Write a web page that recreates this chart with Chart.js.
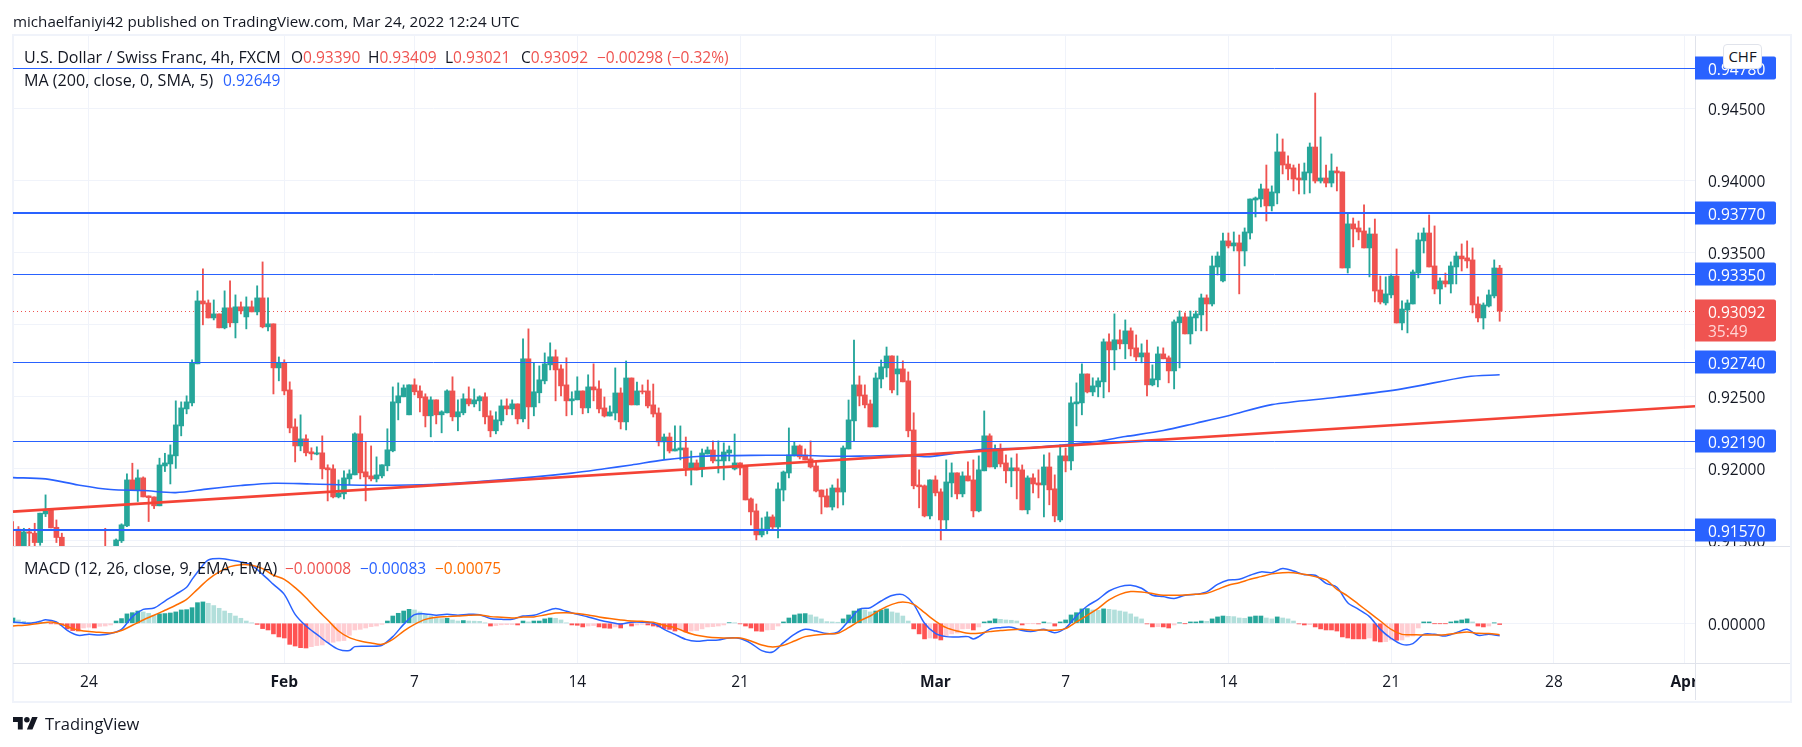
<!DOCTYPE html>
<html><head><meta charset="utf-8">
<style>
html,body{margin:0;padding:0;background:#fff;width:1802px;height:747px;overflow:hidden}
canvas{position:absolute;left:0;top:0}
.t{position:absolute;font:15.5px/20px "Open Sans",sans-serif;color:#131722;white-space:pre;z-index:2}
.l{font-size:16.1px}
.r{color:#ef5350}.b{color:#2962ff}.o{color:#ff6d00}
#frame{position:absolute;left:12px;top:34px;width:1776px;height:665px;border:2px solid #f0f3fa}
#chf{position:absolute;left:1723px;top:44px;width:37px;height:23px;background:#fff;border:1px solid #e0e3eb;border-radius:4px;font:15px/23px "Open Sans",sans-serif;text-align:center;color:#131722;z-index:3}
#logo{position:absolute;left:13px;top:714px}
</style></head><body>
<div id="frame"></div>
<canvas id="c" width="1802" height="747"></canvas>
<div class="t" style="left:13px;top:11px;font-size:15.15px">michaelfaniyi42 published on TradingView.com, Mar 24, 2022 12:24 UTC</div>
<div class="t l" style="left:24px;top:47px">U.S. Dollar / Swiss Franc, 4h, FXCM</div>
<div class="t" style="left:291px;top:47px">O<span class="r">0.93390</span></div>
<div class="t" style="left:368px;top:47px">H<span class="r">0.93409</span></div>
<div class="t" style="left:445px;top:47px">L<span class="r">0.93021</span></div>
<div class="t" style="left:521px;top:47px">C<span class="r">0.93092</span></div>
<div class="t r" style="left:597px;top:47px">−0.00298 (−0.32%)</div>
<div class="t l" style="left:24px;top:70px">MA (200, close, 0, SMA, 5)</div>
<div class="t b" style="left:223px;top:70px">0.92649</div>
<div class="t l" style="left:24px;top:558px">MACD (12, 26, close, 9, EMA, EMA)</div>
<div class="t r" style="left:285px;top:558px">−0.00008</div>
<div class="t b" style="left:360px;top:558px">−0.00083</div>
<div class="t o" style="left:435px;top:558px">−0.00075</div>
<div id="chf">CHF</div>
<svg id="logo" width="25" height="20" viewBox="0 0 36 28"><path fill="#131722" d="M14 22H7V11H0V4h14v18zM28 22h-8l7.5-18h8L28 22z"/><circle fill="#131722" cx="20" cy="8" r="4"/></svg>
<div class="t" style="left:45px;top:714px;font-size:16.5px">TradingView</div>
<script src="https://cdn.jsdelivr.net/npm/chart.js@4/dist/chart.umd.min.js"></script>
<script>
// Prices are in units of 0.00001. null = off the visible part of the pane.
const opens=[91450,91577,91430,91558,91549,91484,91683,91711,91590,91521,
null,null,null,null,null,null,null,91440,null,91440,
91496,91600,91919,91850,91933,91808,91801,91739,92016,92030,
92086,92294,92412,92454,92725,93162,93148,93044,93072,92975,
93114,93010,93121,93051,93121,93086,93183,92982,93003,92697,
92732,92544,92287,92155,92204,92114,92098,92107,92003,91996,
91801,91822,91926,91954,92239,91975,91947,91926,91947,92017,
92121,92454,92496,92371,92579,92537,92496,92364,92475,92371,
92385,92537,92357,92385,92482,92447,92468,92496,92364,92260,
92329,92433,92412,92447,92343,92760,92426,92524,92607,92718,
92774,92690,92579,92468,92475,92537,92419,92565,92551,92419,
92363,92384,92523,92322,92627,92440,92537,92537,92440,92384,
92183,92217,92120,92127,92141,92002,92037,91995,92099,92127,
92051,92051,92106,91995,92037,92016,91787,91704,91537,91572,
91662,91592,91849,91967,92085,92155,92092,92065,92016,91849,
91808,91731,91863,91835,92134,92329,92579,92509,92447,92287,
92620,92697,92780,92655,92690,92607,92266,91884,91878,91669,
91919,91836,91641,91898,91968,91822,91947,91919,91704,91982,
92225,92009,92128,92037,91982,92003,91989,91711,91933,91898,
91884,92009,91857,91641,92086,92051,92447,92454,92655,92530,
92565,92600,92878,92822,92892,92864,92954,92836,92773,92801,
92579,92614,92794,92767,92676,93010,93051,92933,93044,93065,
93183,93141,93398,93301,93579,93544,93565,93509,93634,93863,
93870,93940,93822,93912,94197,94113,94086,94016,94002,94051,
94231,93995,94016,93981,94065,94058,93391,93697,93669,93648,
93530,93627,93238,93148,93204,93335,93009,93099,93141,93356,
93579,93634,93405,93245,93301,93280,93398,93474,93461,93447,
93141,93044,93127,93197,93390];
const highs=[91630,91595,91583,91583,91618,91688,91815,91722,91641,91549,
null,null,null,null,null,null,null,91583,null,91509,
91614,91961,92035,91989,91940,91808,91801,92070,92104,92162,
92468,92461,92503,92753,93232,93385,93169,93169,93072,93232,
93301,93204,93155,93190,93162,93267,93433,93183,93003,92773,
92753,92600,92343,92371,92232,92142,92149,92225,92024,92024,
91919,91982,91989,92246,92364,92183,92155,92079,92024,92274,
92565,92593,92579,92579,92621,92572,92517,92496,92475,92399,
92544,92635,92475,92517,92565,92551,92503,92524,92399,92392,
92475,92482,92475,92447,92899,92968,92732,92711,92801,92871,
92822,92718,92767,92531,92635,92537,92649,92725,92607,92495,
92433,92697,92558,92745,92627,92599,92579,92613,92585,92419,
92238,92245,92294,92294,92217,92120,92058,92134,92148,92190,
92190,92176,92155,92238,92037,92016,91794,91752,91655,91697,
91676,91898,91981,92280,92183,92162,92134,92190,92044,91849,
91856,91884,91926,92155,92474,92891,92641,92579,92474,92662,
92752,92842,92780,92780,92746,92669,92385,91989,91884,91919,
91947,91857,92058,92037,91968,91975,92044,92058,92086,92398,
92239,92162,92169,92093,92072,92100,92023,91947,91961,91989,
92093,92107,91954,92162,92141,92496,92593,92725,92655,92628,
92628,92898,92933,93072,92961,93030,92975,92926,92864,92891,
92718,92843,92836,92780,93030,93093,93079,93092,93092,93210,
93204,93474,93502,93634,93634,93641,93620,93669,93870,93884,
93974,94106,93961,94322,94287,94169,94106,94113,94120,94259,
94606,94301,94106,94183,94092,94058,93773,93738,93717,93829,
93669,93731,93335,93329,93349,93523,93162,93169,93377,93634,
93669,93759,93683,93322,93356,93433,93502,93558,93579,93530,
93190,93148,93238,93447,93409];
const lows=[91400,91400,91400,91440,91420,91465,91664,91586,91484,91400,
null,null,null,null,null,null,null,91400,null,91420,
91484,91595,91850,91769,91801,91630,91720,91739,91977,91891,
91999,92225,92378,92433,92725,92996,93044,93030,92975,92968,
92982,92905,93072,92968,93086,93065,92975,92954,92516,92607,
92510,92246,92044,92121,92086,92058,92093,91926,91773,91794,
91794,91787,91885,91954,91926,91773,91912,91905,91933,91982,
92114,92336,92496,92371,92510,92392,92287,92218,92308,92246,
92385,92329,92260,92371,92433,92426,92399,92308,92218,92239,
92301,92371,92371,92308,92322,92274,92364,92454,92586,92683,
92468,92503,92364,92371,92475,92378,92385,92468,92385,92356,
92363,92336,92273,92266,92440,92440,92516,92419,92356,92155,
92065,92106,92120,92058,91947,91884,91988,91940,92099,92037,
91967,91919,92051,91988,91954,91780,91606,91502,91523,91544,
91572,91516,91773,91933,92085,92065,92058,92002,91835,91683,
91731,91710,91724,91745,92134,92190,92433,92419,92287,92287,
92558,92634,92523,92509,92600,92218,91857,91725,91662,91648,
91808,91502,91572,91801,91787,91801,91912,91662,91697,91982,
92009,91996,92009,91898,91871,91787,91711,91683,91829,91794,
91662,91746,91628,91628,91975,91989,92294,92371,92523,92503,
92496,92489,92530,92683,92829,92760,92780,92746,92732,92503,
92572,92565,92760,92593,92551,92697,92933,92863,92954,92954,
92954,93127,93342,93294,93530,93509,93211,93405,93592,93745,
93815,93717,93787,93836,94044,94002,93926,93905,93905,93912,
93981,93981,93954,93954,93926,93391,93356,93537,93586,93530,
93329,93155,93141,93134,93183,93009,92960,92940,93141,93322,
93495,93398,93211,93141,93259,93217,93280,93370,93391,93079,
93016,92967,93120,93183,93021];
const closes=[91430,91420,91558,91549,91484,91688,91704,91586,91519,91430,
null,null,null,null,null,null,null,91420,null,91502,
91607,91919,91850,91933,91801,91796,91739,92023,92037,92093,
92301,92419,92461,92732,93162,93141,93044,93072,92975,93114,
93010,93121,93093,93121,93086,93183,92982,93003,92697,92732,
92537,92280,92155,92204,92107,92100,92107,91996,91989,91801,
91829,91933,91961,92239,91968,91940,91926,91954,92024,92128,
92461,92503,92558,92579,92531,92489,92364,92475,92371,92392,
92537,92357,92392,92482,92447,92475,92496,92357,92260,92336,
92433,92412,92447,92343,92760,92426,92531,92614,92725,92774,
92683,92572,92468,92482,92537,92419,92565,92544,92412,92363,
92391,92523,92322,92627,92440,92537,92530,92433,92377,92183,
92217,92120,92134,92141,92002,92037,91988,92106,92127,92051,
92058,92113,92127,92037,92002,91780,91697,91537,91578,91662,
91592,91856,91974,92092,92155,92079,92058,92009,91842,91801,
91731,91863,91835,92141,92336,92579,92502,92440,92287,92627,
92704,92780,92544,92690,92600,92260,91878,91871,91669,91919,
91829,91641,91905,91968,91822,91947,91912,91704,91989,92225,
92009,92121,92030,91982,92003,91982,91711,91933,91891,91884,
92009,91850,91669,92086,92051,92454,92461,92655,92530,92572,
92607,92878,92822,92892,92864,92954,92829,92773,92801,92579,
92621,92794,92760,92676,93017,93051,92933,93051,93072,93183,
93141,93405,93474,93579,93544,93565,93509,93641,93870,93877,
93940,93822,93919,94197,94106,94079,94009,94002,94058,94231,
93995,94016,93981,94065,94051,93391,93697,93662,93641,93530,
93627,93231,93155,93211,93335,93009,93106,93148,93363,93586,
93634,93398,93245,93301,93280,93405,93474,93454,93440,93134,
93044,93134,93204,93391,93092];
const maIdx=[0,6,12,18,24,30,36,42,48,55,66,78,90,103,109,114,120,127,133,139,145,151,157,164,169,178,187,193,199,205,212,218,224,232,244,256,268,274];
const maVal=[91935,91926,91884,91852,91845,91831,91857,91880,91896,91891,91882,91889,91919,91966,91996,92023,92058,92083,92088,92090,92090,92083,92085,92090,92081,92128,92141,92160,92183,92220,92262,92313,92365,92442,92493,92551,92636,92649];
const hist=[35,22,13,7,2,2,0,-2,-4,-13,
-37,-48,-51,-31,-26,-31,-20,-18,-11,15,
31,62,70,81,75,66,53,62,64,68,
75,88,90,103,136,141,132,117,99,81,
66,48,33,15,2,-7,-35,-44,-70,-90,
-97,-139,-150,-161,-163,-154,-147,-143,-128,-125,
-117,-114,-79,-44,-40,-31,-22,-18,-7,15,
48,66,81,92,88,75,59,48,37,31,
33,22,15,18,15,14,13,2,-18,-15,
-10,-9,-8,-11,15,9,15,15,29,35,
33,22,2,-11,-13,-24,-18,-15,-24,-31,
-33,-24,-31,-4,-18,-11,-7,-11,-18,-24,
-35,-40,-51,-40,-57,-51,-48,-37,-24,-22,
-18,-11,4,2,-4,-18,-31,-51,-53,-44,
-42,-18,9,35,55,62,64,55,42,29,
11,9,7,29,55,81,95,88,75,81,
88,95,75,68,48,15,-37,-70,-103,-97,
-99,-110,-84,-70,-64,-37,-35,-44,-24,9,
15,29,26,22,20,15,-11,-2,-1,-4,
9,2,-18,9,22,55,70,95,97,88,
86,95,92,88,81,75,62,42,29,-4,
-24,-22,-24,-31,-11,2,-2,9,9,15,
13,29,42,48,46,44,35,33,42,48,
48,35,29,42,35,29,15,-4,-11,-9,
-24,-37,-44,-44,-51,-90,-97,-103,-103,-103,
-97,-117,-123,-121,-110,-112,-110,-90,-84,-31,
9,9,-2,-2,-2,9,15,22,29,9,
-18,-24,-18,2,-8];
const macdIdx=[0,3,5,6,8,10,12,14,16,18,20,22,24,26,28,30,32,33,35,36,38,40,42,44,46,48,50,52,54,56,58,60,62,63,66,68,70,72,74,76,78,80,82,84,86,88,90,92,94,96,98,100,102,104,106,108,110,112,114,116,118,120,122,124,126,128,130,132,134,136,138,140,142,144,146,148,150,152,154,156,158,160,162,164,166,168,170,172,174,176,177,178,180,182,184,186,188,190,192,194,196,198,200,202,204,206,208,210,212,214,216,218,220,222,224,226,228,230,232,234,236,238,240,242,244,246,248,250,252,254,256,258,260,262,264,266,268,270,272,274];
const macdVal=[9,0,13,24,9,-46,-79,-73,-77,-68,-40,44,92,101,147,191,238,290,383,418,427,418,405,383,323,257,191,59,-18,-73,-128,-172,-180,-154,-152,-145,-88,-7,57,62,53,59,53,59,57,31,26,26,48,53,77,97,79,59,42,22,7,-4,7,7,0,-40,-73,-106,-119,-112,-110,-97,-101,-132,-180,-189,-128,-73,-40,-51,-68,-59,15,92,103,147,183,189,125,0,-66,-88,-90,-88,-103,-88,-40,-29,-26,-48,-53,-40,-62,-31,48,114,158,213,242,251,231,185,176,163,185,191,207,257,286,290,317,339,334,361,345,321,317,264,238,136,92,44,-40,-99,-139,-134,-73,-73,-84,-62,-40,-79,-73,-83];
const signalIdx=[0,3,5,7,9,11,13,15,18,20,22,24,26,28,30,32,34,36,38,40,42,44,46,48,50,52,54,56,58,60,62,64,66,68,70,72,74,76,78,80,82,84,86,88,90,92,94,96,98,100,102,104,106,108,110,112,114,116,118,120,122,124,126,128,130,132,134,136,138,140,142,144,146,148,150,152,154,156,158,160,162,164,166,168,170,172,174,176,178,180,182,184,186,188,190,192,194,196,198,200,202,204,206,208,210,212,214,216,218,220,222,224,226,228,230,232,234,236,238,240,242,244,246,248,250,252,254,256,258,260,262,264,266,268,270,272,274];
const signalVal=[-18,-9,0,9,-7,-35,-51,-57,-64,-48,-13,22,53,86,119,158,224,290,339,374,387,383,361,317,290,235,169,92,22,-51,-95,-117,-130,-139,-106,-51,-7,26,40,44,48,53,55,44,40,35,42,42,55,68,70,64,55,42,31,22,15,13,7,-13,-29,-57,-79,-90,-95,-97,-97,-117,-143,-156,-145,-117,-88,-77,-70,-66,-29,15,48,92,125,141,125,70,15,-29,-51,-66,-66,-55,-48,-42,-40,-46,-44,-46,-35,9,53,99,154,191,209,207,196,185,185,187,191,198,224,251,268,290,308,326,334,334,323,308,286,224,180,125,70,15,-40,-73,-75,-77,-77,-75,-66,-57,-66,-68,-75];
const levels=[94780,93770,93350,92740,92190,91570];
const levelWidths=[1,2,1,1,1,2];
const lastClose=93092;
const trendIdx=[0,310];
const trendVal=[91699,92431];
const priceTicks=[94500,94000,93500,93000,92500,92000,91500];
const tickIndex=[14,50,74,104,134,170,194,224,254,284,308];
const tickLabels=['24','Feb','7','14','21','Mar','7','14','21','28','Apr'];
const boldLabels=['Feb','Mar','Apr'];
const slots=311, U=1e-5;

const GREEN='#26a69a',RED='#ef5350',BLUE='#2962ff',ORANGE='#ff6d00',GRID='#f0f3fa',EDGE='#e0e3eb',INK='#131722';
const FF='"Open Sans",sans-serif';
const categories=Array(slots).fill('');
tickIndex.forEach((ix,k)=>categories[ix]=tickLabels[k]);
const sparse=(idx,vals)=>{const a=Array(slots).fill(null);idx.forEach((ix,k)=>a[ix]=vals[k]*U);return a;};
const range=(a,b)=>a.map((v,k)=>v===null?null:[Math.min(v,b[k])*U,Math.max(v,b[k])*U]);
const candleColors=opens.map((o,k)=>closes[k]<o?RED:GREEN);
const histColors=hist.map((v,k)=>{const p=k?hist[k-1]:v;
  return v>=0?(v>=p?'#26a69a':'#b2dfdb'):(v<=p?'#ff5252':'#ffcdd2');});
const lineSet=(data,color,width,order,yAxisID='y',extra={})=>Object.assign({type:'line',data,borderColor:color,borderWidth:width,pointRadius:0,spanGaps:true,order,yAxisID,tension:0},extra);

const datasets=[
  ...levels.map((v,k)=>lineSet(sparse([0,slots-1],[v,v]),BLUE,levelWidths[k],1,'y',{crisp:true})),
  lineSet(sparse(trendIdx,trendVal),'#f44336',2.6,2),
  lineSet(sparse(maIdx,maVal),BLUE,1.6,3,'y',{tension:0.3}),
  lineSet(sparse([0,slots-1],[lastClose,lastClose]),RED,1,9,'y',{borderDash:[1,3],crisp:true}),
  {type:'bar',data:range(opens,closes),backgroundColor:candleColors,barThickness:5,grouped:false,borderWidth:0,order:5,yAxisID:'y'},
  {type:'bar',data:range(lows,highs),backgroundColor:candleColors,barThickness:1.2,grouped:false,borderWidth:0,order:6,yAxisID:'y'},
  {type:'bar',data:hist.map(v=>v*U),backgroundColor:histColors,barThickness:4,grouped:false,borderWidth:0,order:7,yAxisID:'y2'},
  lineSet(sparse(signalIdx,signalVal),ORANGE,1.5,1,'y2',{tension:0.3}),
  lineSet(sparse(macdIdx,macdVal),BLUE,1.5,2,'y2',{tension:0.3}),
];

// Snap horizontal level lines to whole device pixels so they stay sharp.
const crispLines={id:'crispLines',beforeDatasetsDraw(ch){
  ch.data.datasets.forEach((d,k)=>{
    if(!d.crisp)return;
    const odd=Math.round(d.borderWidth)%2===1;
    ch.getDatasetMeta(k).data.forEach(pt=>{pt.y=Math.round(pt.y)+(odd?0.5:0);});
  });
}};

const overlay={id:'overlay',afterDraw(ch){
  const c=ch.ctx,a=ch.chartArea,y=ch.scales.y,y2=ch.scales.y2;
  c.save();
  c.fillStyle='#fff';c.fillRect(a.right+1,a.bottom+1,94,36);
  c.strokeStyle=EDGE;c.lineWidth=1;c.beginPath();
  c.moveTo(a.right+.5,a.top);c.lineTo(a.right+.5,a.bottom+37);
  c.moveTo(a.left,y2.top+.5);c.lineTo(1790,y2.top+.5);
  c.moveTo(a.left,a.bottom+.5);c.lineTo(1790,a.bottom+.5);
  c.stroke();
  const badge=(val,h,color)=>{const p=Math.round(y.getPixelForValue(val));
    c.fillStyle=color;c.beginPath();c.roundRect(a.right,p-11.5,81,h,[0,2,2,0]);c.fill();return p;};
  c.font='15.5px '+FF;c.textBaseline='middle';c.textAlign='left';
  levels.forEach(v=>{const p=badge(v*U,23,BLUE);c.fillStyle='#fff';c.fillText((v*U).toFixed(5),1708,p+2.5);});
  const p=badge(lastClose*U,42,RED);
  c.fillStyle='#fff';c.fillText((lastClose*U).toFixed(5),1708,p+3);
  c.fillStyle='#ffd5d5';c.fillText('35:49',1708,p+22);
  c.restore();
}};

new Chart(document.getElementById('c'),{
  type:'bar',
  data:{labels:categories,datasets},
  plugins:[crispLines,overlay],
  options:{
    responsive:false,animation:false,devicePixelRatio:1,
    layout:{padding:{left:13,top:36,right:12,bottom:47}},
    plugins:{legend:{display:false},tooltip:{enabled:false}},
    scales:{
      x:{type:'category',offset:false,
        afterBuildTicks(s){s.ticks=s.ticks.filter(t=>tickIndex.includes(t.value));},
        afterFit(s){s.height=37;},
        grid:{color:GRID,drawTicks:false,offset:false},border:{display:false},
        ticks:{autoSkip:false,maxRotation:0,minRotation:0,padding:10,color:INK,
          font:ctx=>({family:FF,size:15.5,weight:boldLabels.includes(ctx.tick&&ctx.tick.label)?'bold':'normal'})}},
      y:{position:'right',stack:'p',stackWeight:510,weight:1,min:0.9146,max:0.95002,
        afterBuildTicks(s){s.ticks=priceTicks.map(v=>({value:v*U}));},
        afterFit(s){s.width=95;},
        grid:{color:GRID,drawTicks:false},border:{display:false},
        ticks:{autoSkip:false,padding:13,labelOffset:2,color:INK,font:{family:FF,size:15.5},callback:v=>v.toFixed(5)}},
      y2:{position:'right',stack:'p',stackWeight:117,weight:2,min:-0.00262,max:0.0051,
        afterBuildTicks(s){s.ticks=[{value:0}];},
        afterFit(s){s.width=95;},
        grid:{color:GRID,drawTicks:false},border:{display:false},
        ticks:{autoSkip:false,padding:13,labelOffset:2,color:INK,font:{family:FF,size:15.5},callback:v=>v.toFixed(5)}}
    }
  }
});
</script>
</body></html>
